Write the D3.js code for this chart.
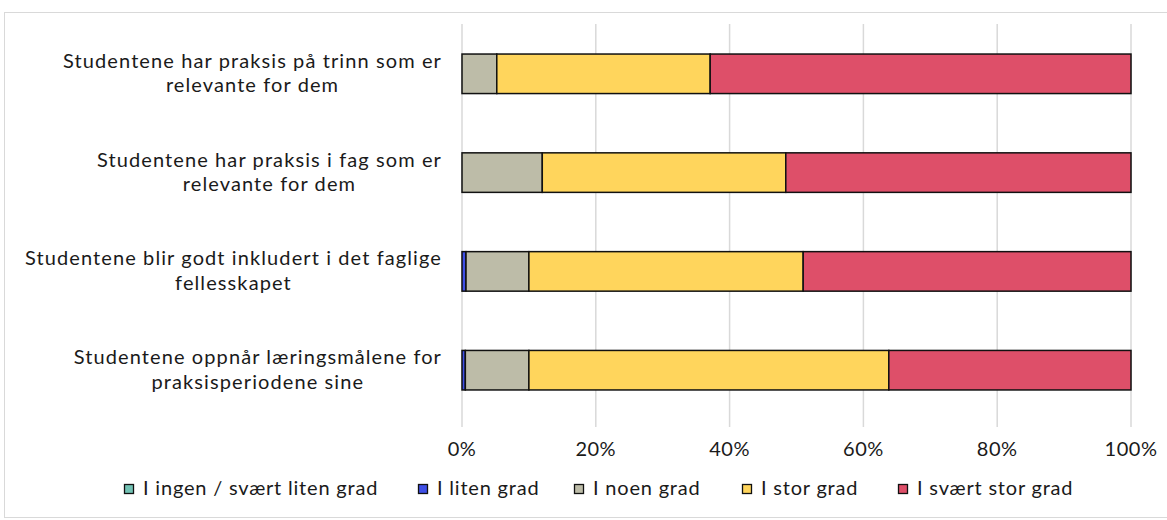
<!DOCTYPE html>
<meta charset="utf-8">
<head>
<style>
body { margin: 0; background: #fff; }
svg text { font-family: Lato, "Open Sans", sans-serif; fill: #1a1a1a; }
.grid line { stroke: #d9d9d9; stroke-width: 1.5; }
.bar rect { stroke: #111; stroke-width: 1.5; }
</style>
</head>
<body>
<svg width="1167" height="520"></svg>
<script src="https://d3js.org/d3.v7.min.js"></script>
<script>

var categories = [
  ["Studentene har praksis på trinn som er", "relevante for dem"],
  ["Studentene har praksis i fag som er", "relevante for dem"],
  ["Studentene blir godt inkludert i det faglige", "fellesskapet"],
  ["Studentene oppnår læringsmålene for", "praksisperiodene sine"]
];
var seriesNames = ["I ingen / svært liten grad", "I liten grad", "I noen grad", "I stor grad", "I svært stor grad"];
var seriesColors = ["#72c2b4", "#3f4fe6", "#bdbca8", "#ffd55c", "#de4f69"];
var ingen = [0, 0, 0, 0];
var liten = [0, 0, 0.6, 0.5];
var noen = [5.2, 12.0, 9.4, 9.5];
var stor = [31.9, 36.4, 41.0, 53.8];
var svaert = [62.9, 51.6, 49.0, 36.2];
var ticks = [0, 20, 40, 60, 80, 100];

var svg = d3.select("svg");

// outer frame
svg.append("rect")
    .attr("x", 4.5).attr("y", 12.5)
    .attr("width", 1170).attr("height", 505)
    .attr("fill", "none").attr("stroke", "#d9d9d9");

var x = d3.scaleLinear().domain([0, 100]).range([462, 1131]);
var y = d3.scaleBand().domain(d3.range(categories.length)).range([24.4, 419.6]).paddingInner(0.6).paddingOuter(0.3);

var grid = svg.append("g").attr("class", "grid");
grid.selectAll("line").data(ticks).enter().append("line")
    .attr("x1", d => x(d)).attr("x2", d => x(d))
    .attr("y1", 24).attr("y2", 427);

var rows = categories.map(function(c, i) {
  return [ingen[i], liten[i], noen[i], stor[i], svaert[i]];
});
var stacked = d3.stack().keys(d3.range(5))(rows);

var bar = svg.append("g").attr("class", "bar");
stacked.forEach(function(layer, k) {
  bar.selectAll(".s" + k).data(layer).enter().append("rect")
      .attr("class", "s" + k)
      .attr("x", d => x(d[0]))
      .attr("width", d => x(d[1]) - x(d[0]))
      .attr("y", (d, i) => y(i))
      .attr("height", y.bandwidth())
      .attr("fill", seriesColors[k])
      .style("display", d => d[1] - d[0] > 0 ? null : "none");
});

// category labels: centred block, right edge at 442
var labels = svg.append("g").attr("font-size", "20px").attr("letter-spacing", "1.1px");
categories.forEach(function(lines, i) {
  var cy = y(i) + y.bandwidth() / 2;
  var g = labels.append("g");
  var t = g.selectAll("text").data(lines).enter().append("text")
      .attr("text-anchor", "middle")
      .attr("y", (d, j) => cy - 6 + j * 24.5)
      .text(d => d);
  var w = d3.max(t.nodes(), n => n.getComputedTextLength());
  t.attr("x", 442 - w / 2);
});

svg.append("g").selectAll("text").data(ticks).enter().append("text")
    .attr("x", d => x(d))
    .attr("y", 456)
    .attr("text-anchor", "middle")
    .attr("font-size", "20px")
    .attr("letter-spacing", "0.5px")
    .text(d => d + "%");

// legend
var legendX = [124, 418, 574, 742, 898];
var leg = svg.append("g").selectAll("g").data(seriesNames).enter().append("g")
    .attr("transform", (d, i) => "translate(" + legendX[i] + ",0)");
leg.append("rect")
    .attr("x", 0.5).attr("y", 484.5)
    .attr("width", 9).attr("height", 9)
    .attr("fill", (d, i) => seriesColors[i])
    .attr("stroke", "#111").attr("stroke-width", 1.3);
leg.append("text")
    .attr("x", 19).attr("y", 495)
    .attr("font-size", "20px")
    .attr("letter-spacing", "0.8px")
    .text(d => d);

</script>
</body>
</html>
